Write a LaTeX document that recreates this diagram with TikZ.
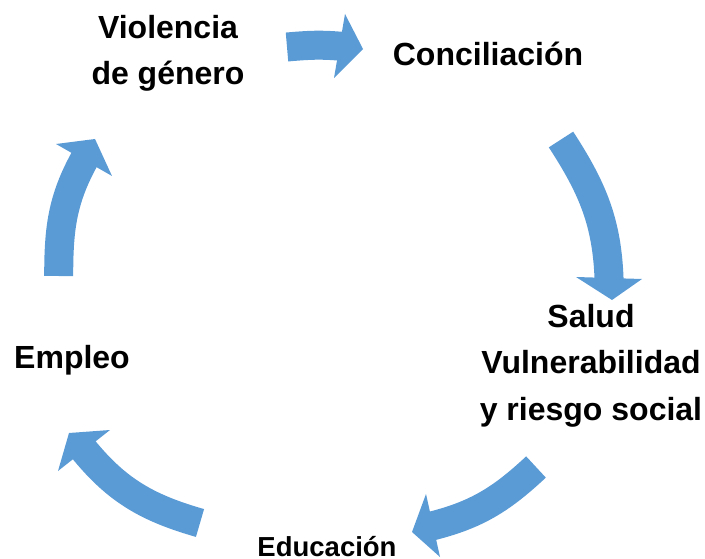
\documentclass[tikz,border=0pt]{standalone}
\usepackage{fontspec}
\setmainfont{Liberation Sans}
\usetikzlibrary{arrows.meta}
\definecolor{arrowblue}{HTML}{5B9BD5}
\begin{document}
\begin{tikzpicture}[x=1pt,y=-1pt,
  lbl/.style={font=\fontsize{32}{46.5}\selectfont\bfseries, inner sep=0pt, align=center},
  arrowbody/.style={draw=arrowblue, line width=29pt, line cap=butt},
  arrowhead/.style={fill=arrowblue, draw=none}]
\useasboundingbox (0,0) rectangle (705,559);

% labels
\node[lbl, anchor=base] (viol) at (168,85) {Violencia\\de género};
\node[lbl, anchor=base] (conc) at (488,66) {Conciliación};
\node[lbl, anchor=base] (salud) at (591,420) {Salud\\Vulnerabilidad\\y riesgo social};
\node[lbl, anchor=base, font=\fontsize{27.5}{33}\selectfont\bfseries] (educ) at (327,556.5) {Educación};
\node[lbl, anchor=base] (empl) at (72,368) {Empleo};

% arrow 1: Violencia -> Conciliacion
\coordinate (t1) at (287,47);
\coordinate (b1) at (341.5,46.3);
\coordinate (h1a) at (345,14);
\coordinate (h1b) at (363,49);
\coordinate (h1c) at (334,78);
\draw[arrowbody] (t1) to[out=5,in=175] (b1);
\fill[arrowhead] (h1a) -- (h1b) -- (h1c) -- cycle;

% arrow 2: Conciliacion -> Salud
\coordinate (t2) at (561,139.5);
\coordinate (b2) at (609.1,280);
\coordinate (h2a) at (576,277);
\coordinate (h2b) at (612,300);
\coordinate (h2c) at (642,279);
\draw[arrowbody] (t2) to[out=-57,in=92] (b2);
\fill[arrowhead] (h2a) -- (h2b) -- (h2c) -- cycle;

% arrow 3: Salud -> Educacion
\coordinate (t3) at (536,467);
\coordinate (b3) at (431,526.2);
\coordinate (h3a) at (426,494);
\coordinate (h3b) at (412,532);
\coordinate (h3c) at (440,557);
\draw[arrowbody] (t3) to[out=-137,in=14] (b3);
\fill[arrowhead] (h3a) -- (h3b) -- (h3c) -- cycle;

% arrow 4: Educacion -> Empleo
\coordinate (t4) at (200,523);
\coordinate (b4) at (82.7,448.4);
\coordinate (h4a) at (110,430);
\coordinate (h4b) at (69,433);
\coordinate (h4c) at (58,471);
\draw[arrowbody] (t4) to[out=164,in=-51] (b4);
\fill[arrowhead] (h4a) -- (h4b) -- (h4c) -- cycle;

% arrow 5: Empleo -> Violencia
\coordinate (t5) at (58.7,276);
\coordinate (b5) at (85,158.2);
\coordinate (h5a) at (56,144);
\coordinate (h5b) at (95,139);
\coordinate (h5c) at (112,176);
\draw[arrowbody] (t5) to[out=90,in=-119] (b5);
\fill[arrowhead] (h5a) -- (h5b) -- (h5c) -- cycle;
\end{tikzpicture}
\end{document}
